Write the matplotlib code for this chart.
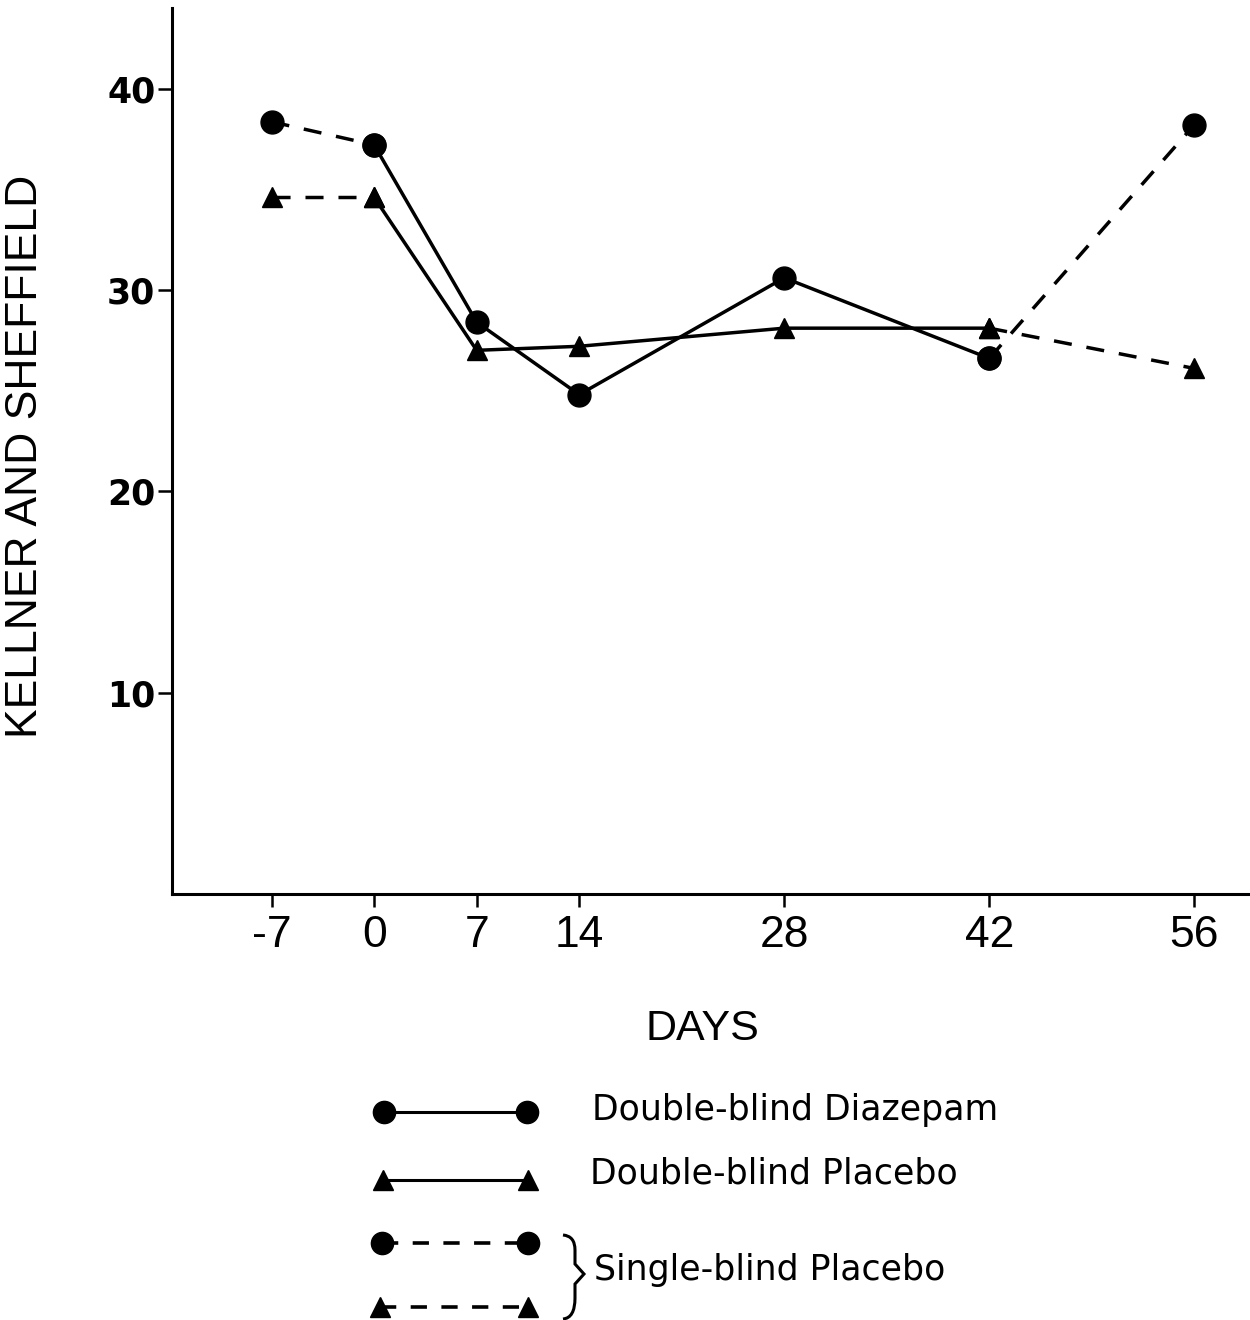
import numpy as np
import matplotlib
matplotlib.use('Agg')
import matplotlib.pyplot as plt
from matplotlib.path import Path
from matplotlib.patches import PathPatch

# data
diaz_days = [0, 7, 14, 28, 42]
diaz = [37.2, 28.4, 24.8, 30.6, 26.6]          # double-blind diazepam
dbp_days = [0, 7, 14, 28, 42]
dbp = [34.6, 27.0, 27.2, 28.1, 28.1]           # double-blind placebo
sb_days = [-7, 0, 42, 56]
sb_circ = [38.35, 37.2, 26.6, 38.2]            # single-blind placebo (circle group)
sb_tri = [34.6, 34.6, 28.1, 26.1]              # single-blind placebo (triangle group)

xticks = [-7, 0, 7, 14, 28, 42, 56]
yticks = [10, 20, 30, 40]

narrow = ['Liberation Sans', 'DejaVu Sans']

fig = plt.figure(figsize=(12.5, 13.2), dpi=100)

# pixel-space layer for the hand-made legend
lax = fig.add_axes([0, 0, 1, 1])
lax.set_xlim(0, 1250)
lax.set_ylim(1320, 0)
lax.axis('off')

ax = fig.add_axes([172 / 1250, 1 - 894 / 1320, 1 - 172 / 1250, 886 / 1320])
ax.patch.set_alpha(0)

lw = 2.5
dash = (0, (5.2, 4.3))
ms_c, ms_t = 16.5, 15

# single-blind placebo (dashed), before day 0 and after day 42
for a, b in [(0, 2), (2, 4)]:
    ax.plot(sb_days[a:b], sb_circ[a:b], color='black', lw=lw, linestyle=dash,
            marker='o', ms=ms_c)
    ax.plot(sb_days[a:b], sb_tri[a:b], color='black', lw=lw, linestyle=dash,
            marker='^', ms=ms_t)

# double-blind phase (solid)
ax.plot(diaz_days, diaz, '-', color='black', lw=lw, marker='o', ms=ms_c)
ax.plot(dbp_days, dbp, '-', color='black', lw=lw, marker='^', ms=ms_t)

ax.set_xlim(-13.8, 59.8)
ax.set_ylim(0, 44)
for s in ['top', 'right']:
    ax.spines[s].set_visible(False)
for s in ['left', 'bottom']:
    ax.spines[s].set_linewidth(2.2)

ax.set_xticks(xticks)
ax.set_xticklabels([str(d) for d in xticks], family=narrow, fontsize=32)
ax.set_yticks(yticks)
ax.set_yticklabels([str(v) for v in yticks], fontsize=25, fontweight='bold')
ax.tick_params(axis='x', length=9, width=1.8, pad=6)
ax.tick_params(axis='y', length=10, width=1.8, pad=2)

ax.set_xlabel('DAYS', family=narrow, fontsize=31)
ax.xaxis.set_label_coords(0.4917, -0.13)
ax.set_ylabel('KELLNER AND SHEFFIELD', family=narrow, fontsize=32)
ax.yaxis.set_label_coords(-0.117, 0.494)

# legend
ldash = (0, (4.5, 4.0))
lax.plot([384, 527], [1112, 1112], '-', color='black', lw=2.2, marker='o', ms=16)
lax.plot([383, 528], [1180, 1180], '-', color='black', lw=2.2, marker='^', ms=14)
lax.plot([382, 528], [1243, 1243], color='black', lw=2.6, linestyle=ldash,
         marker='o', ms=16)
lax.plot([380, 528], [1307, 1307], color='black', lw=2.6, linestyle=ldash,
         marker='^', ms=14)

lfont = dict(fontsize=25, va='center', ha='left', color='black')
lax.text(592, 1110, 'Double-blind Diazepam', **lfont)
lax.text(590, 1173, 'Double-blind Placebo', **lfont)
lax.text(594, 1270, 'Single-blind Placebo', **lfont)

# curly brace grouping the two single-blind rows
verts = [(563, 1235), (575, 1236), (575, 1250),
         (575, 1264), (575, 1264), (584, 1274),
         (575, 1284), (575, 1284), (575, 1298),
         (575, 1318), (563, 1319)]
codes = [Path.MOVETO, Path.CURVE3, Path.CURVE3,
         Path.LINETO, Path.CURVE3, Path.CURVE3,
         Path.CURVE3, Path.CURVE3, Path.LINETO,
         Path.CURVE3, Path.CURVE3]
lax.add_patch(PathPatch(Path(verts, codes), fill=False, lw=2.2, color='black'))

fig.savefig('out.png', dpi=100)
